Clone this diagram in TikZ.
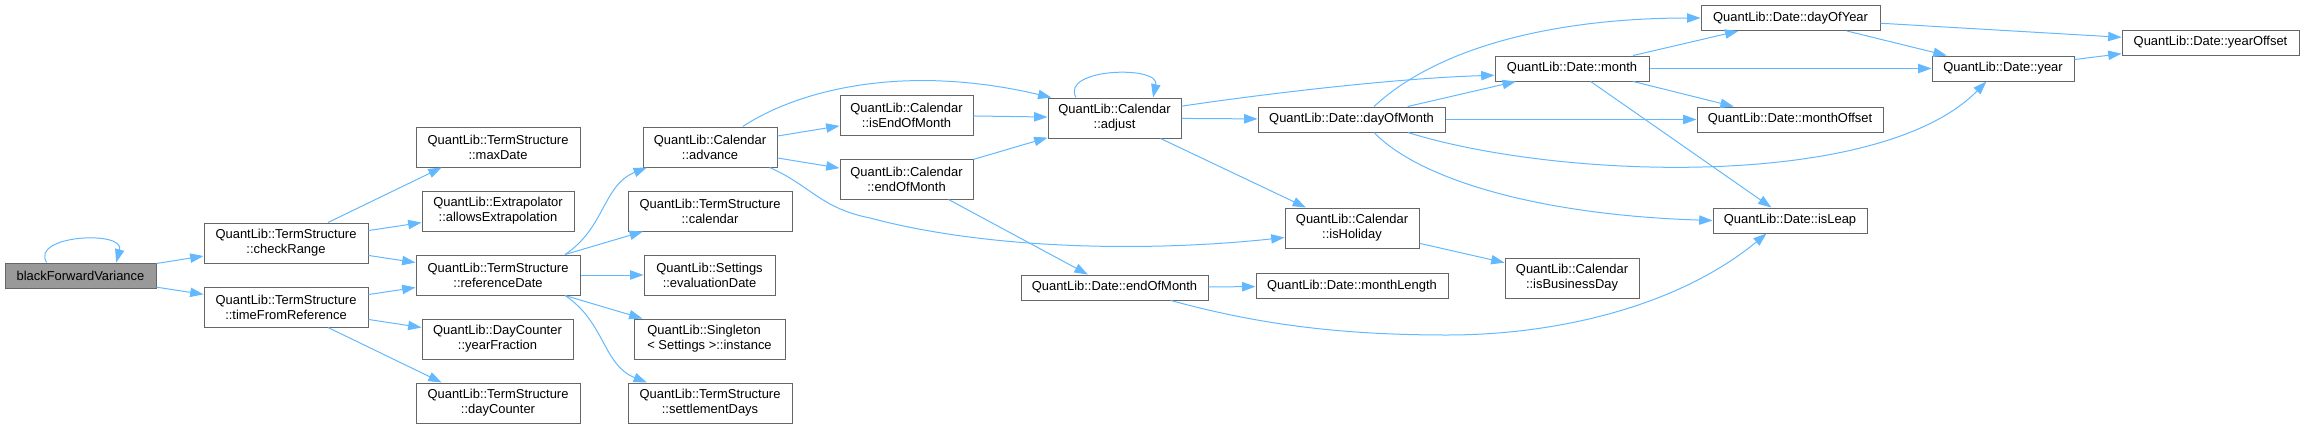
\documentclass[tikz,border=0pt]{standalone}
\usepackage{fontspec}
\setmainfont{Liberation Sans}
\usetikzlibrary{arrows.meta}
\definecolor{edgeblue}{HTML}{63B8FF}
\definecolor{boxgray}{HTML}{666666}
\definecolor{rootgray}{HTML}{999999}

\begin{document}
\begin{tikzpicture}[x=0.75pt, y=-0.75pt,
        fn/.style={draw=boxgray, fill=white, line width=0.75pt, inner sep=0pt, minimum height=30pt, align=center, font=\fontsize{9.7}{11.25}\selectfont},
        one/.style={minimum height=18.75pt},
        call/.style={draw=edgeblue, line width=0.75pt, -{Triangle[length=10pt, width=7pt]}}]
        \useasboundingbox (0,0) rectangle (2304,429);

        %nodes
        \node[fn, one, fill=rootgray, minimum width=113.25pt] (bfv) at (80.5,275.5) {blackForwardVariance};
        \node[fn, minimum width=123pt] (checkrange) at (286,243) {QuantLib::TermStructure\\::checkRange};
        \node[fn, minimum width=123pt] (timefromref) at (286,307) {QuantLib::TermStructure\\::timeFromReference};
        \node[fn, minimum width=123pt] (maxdate) at (498,147) {QuantLib::TermStructure\\::maxDate};
        \node[fn, minimum width=114pt] (allowsextra) at (498,211) {QuantLib::Extrapolator\\::allowsExtrapolation};
        \node[fn, minimum width=123pt] (refdate) at (498,275) {QuantLib::TermStructure\\::referenceDate};
        \node[fn, minimum width=113.25pt] (yearfrac) at (497.5,339) {QuantLib::DayCounter\\::yearFraction};
        \node[fn, minimum width=123pt] (daycounter) at (498,403) {QuantLib::TermStructure\\::dayCounter};
        \node[fn, minimum width=100.5pt] (advance) at (710,147) {QuantLib::Calendar\\::advance};
        \node[fn, minimum width=123pt] (calendar) at (710,211) {QuantLib::TermStructure\\::calendar};
        \node[fn, minimum width=98.25pt] (evaldate) at (709.5,275) {QuantLib::Settings\\::evaluationDate};
        \node[fn, minimum width=113.25pt, align=left] (instance) at (709.5,339) {QuantLib::Singleton\\< Settings >::instance};
        \node[fn, minimum width=123pt] (settledays) at (710,403) {QuantLib::TermStructure\\::settlementDays};
        \node[fn, minimum width=99.75pt] (isendofmonth) at (906.5,115) {QuantLib::Calendar\\::isEndOfMonth};
        \node[fn, minimum width=99.75pt] (calendofmonth) at (906.5,179) {QuantLib::Calendar\\::endOfMonth};
        \node[fn, minimum width=99.75pt] (adjust) at (1114.5,118) {QuantLib::Calendar\\::adjust};
        \node[fn, one, minimum width=140.25pt] (dateendofmonth) at (1114.5,287.5) {QuantLib::Date::endOfMonth};
        \node[fn, one, minimum width=140.25pt] (dayofmonth) at (1351.5,119.5) {QuantLib::Date::dayOfMonth};
        \node[fn, minimum width=100.5pt] (isholiday) at (1352,228) {QuantLib::Calendar\\::isHoliday};
        \node[fn, one, minimum width=144pt] (monthlength) at (1352,286) {QuantLib::Date::monthLength};
        \node[fn, one, minimum width=115.5pt] (month) at (1572,68.5) {QuantLib::Date::month};
        \node[fn, minimum width=100.5pt] (isbusday) at (1572,278) {QuantLib::Calendar\\::isBusinessDay};
        \node[fn, one, minimum width=134.25pt] (dayofyear) at (1790.5,18) {QuantLib::Date::dayOfYear};
        \node[fn, one, minimum width=139.5pt] (monthoffset) at (1790,119.5) {QuantLib::Date::monthOffset};
        \node[fn, one, minimum width=115.5pt] (isleap) at (1790,220.5) {QuantLib::Date::isLeap};
        \node[fn, one, minimum width=106.5pt] (year) at (2003,68.5) {QuantLib::Date::year};
        \node[fn, one, minimum width=132.75pt] (yearoffset) at (2210.5,42.5) {QuantLib::Date::yearOffset};

        %edges
        \draw[call] (bfv.159) .. controls (30,235) and (125,230) .. (bfv.20.5);
        \draw[call] (bfv) -- (checkrange);
        \draw[call] (bfv) -- (timefromref);
        \draw[call] (checkrange.26.6) -- (maxdate.-160);
        \draw[call] (checkrange) -- (allowsextra);
        \draw[call] (checkrange) -- (refdate);
        \draw[call] (timefromref) -- (refdate);
        \draw[call] (timefromref) -- (yearfrac);
        \draw[call] (timefromref.-26.6) -- (daycounter.160);
        \draw[call] (refdate.17.9) .. controls (605,228) and (603,185) .. (advance.-162.4);
        \draw[call] (refdate.17.4) -- (calendar.-163.4);
        \draw[call] (refdate) -- (evaldate);
        \draw[call] (refdate.-17.4) -- (instance.163.3);
        \draw[call] (refdate.-17.9) .. controls (605,322) and (603,365) .. (settledays.162.4);
        \draw[call] (advance.32) .. controls (795,92) and (900,62) .. (adjust.162.25);
        \draw[call] (advance) -- (isendofmonth);
        \draw[call] (advance) -- (calendofmonth);
        \draw[call] (advance.-19.3) .. controls (810,185) and (820,208) .. (870,218) .. controls (990,250) and (1150,252) .. (isholiday.188.5);
        \draw[call] (isendofmonth) -- (adjust);
        \draw[call] (calendofmonth) -- (adjust);
        \draw[call] (calendofmonth.-26.3) -- (dateendofmonth.154.7);
        \draw[call] (adjust.152) .. controls (1060,68) and (1160,65) .. (adjust.28.7);
        \draw[call] (adjust.10) .. controls (1270,93) and (1400,78) .. (month.-175.9);
        \draw[call] (adjust) -- (dayofmonth);
        \draw[call] (adjust.-24.7) -- (isholiday.156);
        \draw[call] (dayofmonth.30.2) .. controls (1440,45) and (1560,18) .. (dayofyear.west);
        \draw[call] (dayofmonth) -- (month);
        \draw[call] (dayofmonth) -- (monthoffset);
        \draw[call] (dayofmonth.-13.9) .. controls (1560,180) and (1880,190) .. (year.-142);
        \draw[call] (dayofmonth.-30.2) .. controls (1420,180) and (1540,215) .. (isleap.west);
        \draw[call] (month.12.6) -- (dayofyear.-166.8);
        \draw[call] (month) -- (year);
        \draw[call] (month.-12.6) -- (monthoffset.167.2);
        \draw[call] (month) -- (isleap);
        \draw[call] (dayofyear) -- (yearoffset);
        \draw[call] (dayofyear.-13.4) -- (year.167.4);
        \draw[call] (year) -- (yearoffset);
        \draw[call] (isholiday) -- (isbusday);
        \draw[call] (dateendofmonth) -- (monthlength);
        \draw[call] (dateendofmonth.-13.4) .. controls (1250,322) and (1330,335) .. (1447,335) .. controls (1560,335) and (1680,305) .. (isleap.-151.5);
\end{tikzpicture}
\end{document}
